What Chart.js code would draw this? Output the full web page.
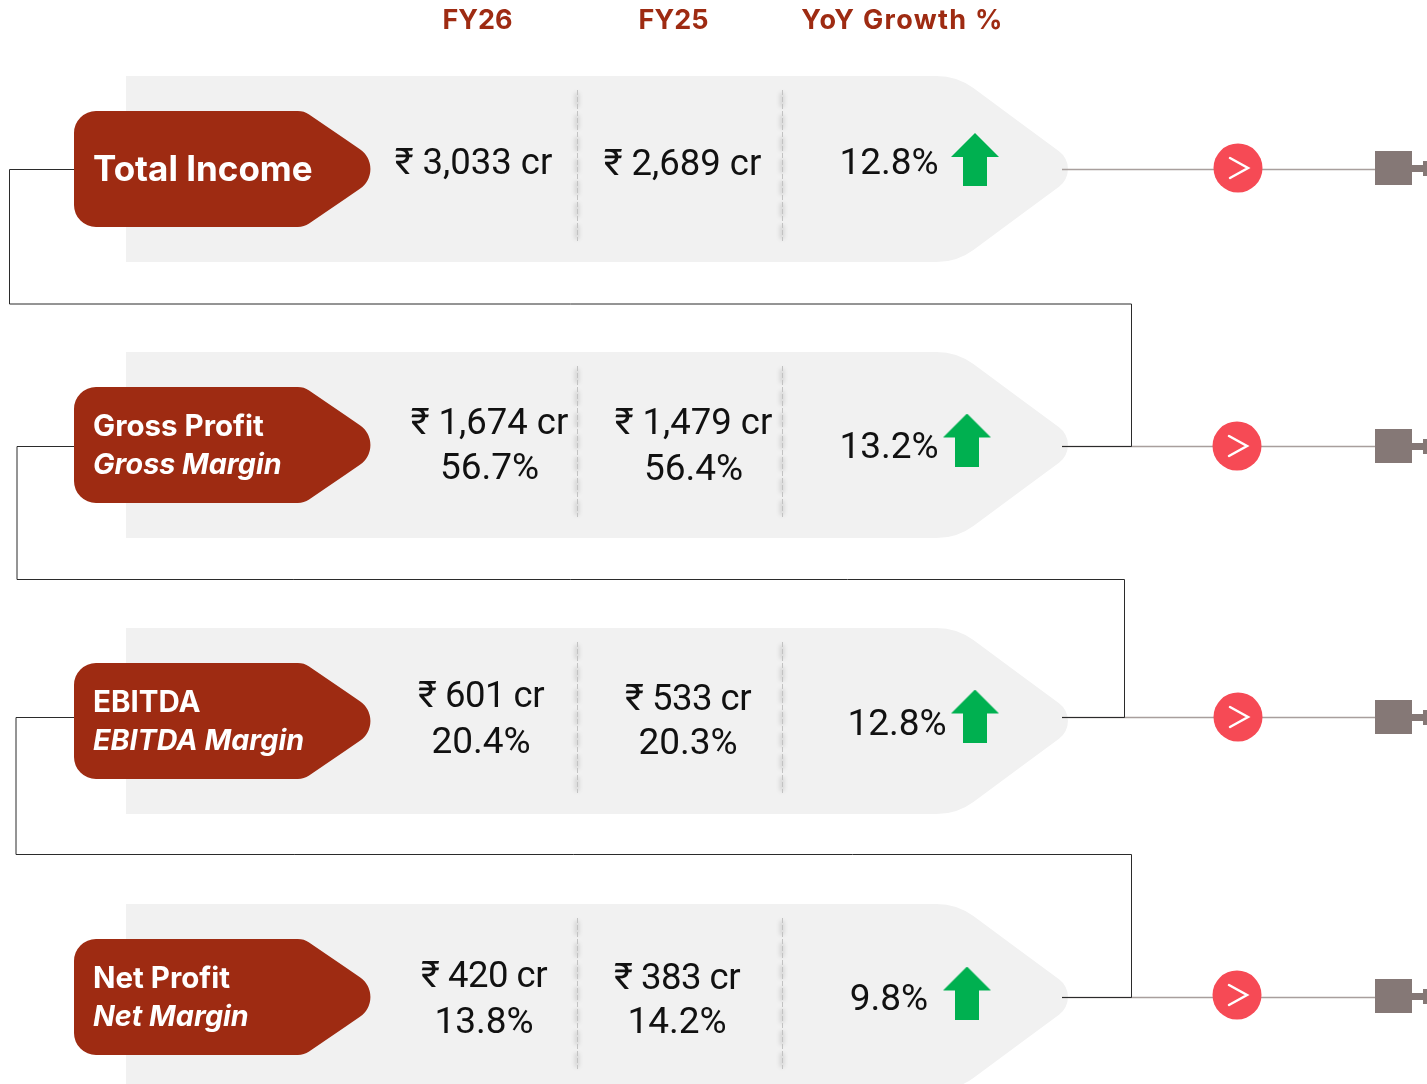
<!DOCTYPE html>
<html>
<head>
<meta charset="utf-8">
<title>FY26 vs FY25</title>
<script src="https://cdn.jsdelivr.net/npm/chart.js@4"></script>
<style>
  html, body { margin: 0; padding: 0; background: #fff; overflow: hidden; }
  canvas { display: block; }
</style>
</head>
<body>
<canvas id="flow" width="1427" height="1084"></canvas>
<script>
// Data
const headers = ['FY26', 'FY25', 'YoY Growth %'];
const metrics = ['Total Income', 'Gross Profit', 'EBITDA', 'Net Profit'];
const marginNames = [null, 'Gross Margin', 'EBITDA Margin', 'Net Margin'];
const fy26Amount = [3033, 1674, 601, 420];
const fy25Amount = [2689, 1479, 533, 383];
const fy26Margin = [null, 56.7, 20.4, 13.8];
const fy25Margin = [null, 56.4, 20.3, 14.2];
const yoyGrowth = [12.8, 13.2, 12.8, 9.8];

// Layout, kept apart from the data. x in page units, dy = px offset from the row centre
const headerX = [477.5, 673.5, 902.5];
const headerSpacing = ['0px', '0px', '1.3px'];
const amountSpacing = ['0px', '0px', '-0.5px', '-0.5px'];
const fy26X = [473.5, 489.5, 481, 484];
const fy25X = [682.5, 693.5, 688, 677];
const yoyX = [889, 889, 897, 889];
const fy26Dy = [-4, -20, -23, -19];
const fy25Dy = [-3, -20, -20, -17];
const fy26MarginDy = [0, 25, 23, 27];
const fy25MarginDy = [0, 26, 24, 27];
const yoyDy = [-4, 4, 5, 4];
const arrowX = [975, 967, 975, 967];
const arrowDy = [-9.5, -5, -5, -4];
const badgeX = [1238, 1237, 1238, 1237];
const badgeDy = [-1, 1, -4, -2];
const lineDy = [0, 1, -4, 0];
const blockDy = [-1, 1, -4, -1];
const dividerX = [578, 783];
const elbowX = [9.5, 17, 16];
const elbowY = [304, 579.5, 854.5];
const elbowEndX = [1131, 1124, 1131];

const COL_RED = '#9E2B12';
const COL_BAND = '#F1F1F1';
const COL_GREEN = '#00B050';
const COL_BADGE = '#F64A55';
const COL_BLOCK = '#857876';
const COL_LINE = '#A89F9D';
const COL_TEXT = '#111111';
const ROW_STEP = 276, ROW_0 = 169;

const fmtAmount = (v) => '₹ ' + v.toLocaleString('en-US') + ' cr';
const fmtPct = (v) => v.toFixed(1) + '%';

function makeArrow() {
  const c = document.createElement('canvas');
  c.width = 48; c.height = 53;
  const g = c.getContext('2d');
  g.fillStyle = COL_GREEN;
  g.beginPath();
  g.moveTo(24, 0); g.lineTo(48, 24); g.lineTo(36, 24); g.lineTo(36, 53);
  g.lineTo(12, 53); g.lineTo(12, 24); g.lineTo(0, 24);
  g.closePath(); g.fill();
  return c;
}

function roundedPoly(ctx, pts) {
  // pts: [x, y, cornerRadius]
  const n = pts.length;
  ctx.beginPath();
  const a0 = pts[n - 1], b0 = pts[0];
  ctx.moveTo((a0[0] + b0[0]) / 2, (a0[1] + b0[1]) / 2);
  for (let i = 0; i < n; i++) {
    const p = pts[i], q = pts[(i + 1) % n];
    if (p[2] > 0) ctx.arcTo(p[0], p[1], (p[0] + q[0]) / 2, (p[1] + q[1]) / 2, p[2]);
    else ctx.lineTo(p[0], p[1]);
    ctx.lineTo((p[0] + q[0]) / 2, (p[1] + q[1]) / 2);
  }
  ctx.closePath();
}

const flowShapes = {
  id: 'flowShapes',
  beforeDatasetsDraw(chart) {
    const { ctx, scales: { x, y } } = chart;
    const px = (v) => x.getPixelForValue(v);
    const rowY = (i) => y.getPixelForValue(i);
    ctx.save();
    metrics.forEach((m, i) => {
      const c = rowY(i);
      // grey band
      ctx.fillStyle = COL_BAND;
      roundedPoly(ctx, [[px(126), c - 93, 0], [px(957), c - 93, 62], [px(1083), c, 22], [px(957), c + 93, 62], [px(126), c + 93, 0]]);
      ctx.fill();
      // dashed dividers with their blotchy soft shadow
      dividerX.forEach((dx) => {
        ctx.save();
        ctx.strokeStyle = 'rgba(0,0,0,0.13)';
        ctx.lineWidth = 4;
        ctx.setLineDash([14, 8]);
        ctx.filter = 'blur(2px)';
        ctx.beginPath();
        ctx.moveTo(px(dx) - 1, c - 76);
        ctx.lineTo(px(dx) - 1, c + 78);
        ctx.stroke();
        ctx.filter = 'none';
        ctx.strokeStyle = '#C2C2C2';
        ctx.lineWidth = 1;
        ctx.setLineDash([5, 2]);
        ctx.beginPath();
        ctx.moveTo(px(dx) - 0.5, c - 79);
        ctx.lineTo(px(dx) - 0.5, c + 72);
        ctx.stroke();
        ctx.restore();
      });
      // line out to the block
      const ly = c + lineDy[i] + 0.5;
      ctx.strokeStyle = COL_LINE;
      ctx.lineWidth = 1.5;
      ctx.beginPath();
      ctx.moveTo(px(1062), ly);
      ctx.lineTo(px(1380), ly);
      ctx.stroke();
      // block and plug
      const by = c + blockDy[i];
      ctx.fillStyle = COL_BLOCK;
      ctx.fillRect(px(1375), by - 17, 37, 34);
      ctx.fillRect(px(1412), by - 3, 12, 7);
      ctx.beginPath();
      ctx.moveTo(px(1423), by - 7);
      ctx.lineTo(px(1427), by - 7);
      ctx.lineTo(px(1427), by + 8);
      ctx.lineTo(px(1423), by + 8);
      ctx.closePath();
      ctx.fill();
    });
    // elbow connectors between rows
    elbowX.forEach((ex, i) => {
      const from = rowY(i) + lineDy[i] + 0.5;
      const to = rowY(i + 1) + lineDy[i + 1] + 0.5;
      ctx.strokeStyle = '#2B2B2B';
      ctx.lineWidth = 1;
      ctx.beginPath();
      ctx.moveTo(px(74), from);
      ctx.lineTo(px(ex), from);
      ctx.lineTo(px(ex), elbowY[i]);
      ctx.lineTo(px(elbowEndX[i]) + 0.5, elbowY[i]);
      ctx.lineTo(px(elbowEndX[i]) + 0.5, to);
      ctx.lineTo(px(1062), to);
      ctx.stroke();
    });
    // red label tags
    metrics.forEach((m, i) => {
      const c = rowY(i);
      ctx.fillStyle = COL_RED;
      roundedPoly(ctx, [[px(74), c - 58, 22], [px(304), c - 58, 20], [px(389), c, 24], [px(304), c + 58, 20], [px(74), c + 58, 22]]);
      ctx.fill();
    });
    ctx.restore();
  },
  afterDatasetsDraw(chart) {
    const { ctx, scales: { x, y } } = chart;
    const px = (v) => x.getPixelForValue(v);
    const rowY = (i) => y.getPixelForValue(i);
    ctx.save();
    ctx.textBaseline = 'middle';
    // column headers
    ctx.textAlign = 'center';
    ctx.fillStyle = COL_RED;
    ctx.font = 'bold 27px Inter, sans-serif';
    headers.forEach((h, i) => {
      ctx.letterSpacing = headerSpacing[i];
      ctx.fillText(h, px(headerX[i]), 21);
    });
    ctx.letterSpacing = '0px';

    metrics.forEach((m, i) => {
      const c = rowY(i);
      // tag labels
      ctx.textAlign = 'left';
      ctx.fillStyle = '#FFFFFF';
      if (marginNames[i]) {
        ctx.font = 'bold 29.5px Inter, sans-serif';
        ctx.fillText(m, px(93), c - 18);
        ctx.font = 'italic bold 28.7px Inter, sans-serif';
        ctx.fillText(marginNames[i], px(93), c + 20.5);
      } else {
        ctx.font = 'bold 35px Inter, sans-serif';
        ctx.fillText(m, px(93), c + 1.5);
      }
      // values
      ctx.textAlign = 'center';
      ctx.fillStyle = COL_TEXT;
      ctx.font = '36.5px Roboto, sans-serif';
      ctx.letterSpacing = amountSpacing[i];
      ctx.fillText(fmtAmount(fy26Amount[i]), px(fy26X[i]), c + fy26Dy[i]);
      ctx.fillText(fmtAmount(fy25Amount[i]), px(fy25X[i]), c + fy25Dy[i]);
      ctx.letterSpacing = '0px';
      ctx.font = '37px Roboto, sans-serif';
      if (fy26Margin[i] !== null) {
        ctx.fillText(fmtPct(fy26Margin[i]), px(fy26X[i]), c + fy26MarginDy[i]);
        ctx.fillText(fmtPct(fy25Margin[i]), px(fy25X[i]), c + fy25MarginDy[i]);
      }
      ctx.fillText(fmtPct(yoyGrowth[i]), px(yoyX[i]), c + yoyDy[i]);
      // chevron in the badge
      const bx = px(badgeX[i]), by = c + badgeDy[i];
      ctx.strokeStyle = '#FFFFFF';
      ctx.lineWidth = 2.5;
      ctx.lineCap = 'round';
      ctx.lineJoin = 'miter';
      ctx.beginPath();
      ctx.moveTo(bx - 8, by - 10);
      ctx.lineTo(bx + 10, by);
      ctx.lineTo(bx - 8, by + 10);
      ctx.stroke();
    });
    ctx.restore();
  },
};

new Chart(document.getElementById('flow'), {
  type: 'scatter',
  data: {
    datasets: [
      {
        label: 'YoY Growth %',
        data: yoyGrowth.map((v, i) => ({ x: arrowX[i], y: i + arrowDy[i] / ROW_STEP })),
        pointStyle: makeArrow(),
        pointRadius: 20,
        pointHoverRadius: 20,
      },
      {
        label: 'Badge',
        data: metrics.map((m, i) => ({ x: badgeX[i], y: i + badgeDy[i] / ROW_STEP })),
        pointStyle: 'circle',
        pointRadius: 24.5,
        backgroundColor: COL_BADGE,
        borderWidth: 0,
      },
    ],
  },
  options: {
    responsive: false,
    animation: false,
    devicePixelRatio: 1,
    layout: { padding: 0, autoPadding: false },
    plugins: { legend: { display: false }, tooltip: { enabled: false } },
    scales: {
      x: { type: 'linear', display: false, min: 0, max: 1427 },
      // y runs in rows: row i sits at ROW_0 + i * ROW_STEP px
      y: {
        type: 'linear', display: false, reverse: true,
        min: -ROW_0 / ROW_STEP, max: (1084 - ROW_0) / ROW_STEP,
      },
    },
  },
  plugins: [flowShapes],
});
</script>
</body>
</html>
